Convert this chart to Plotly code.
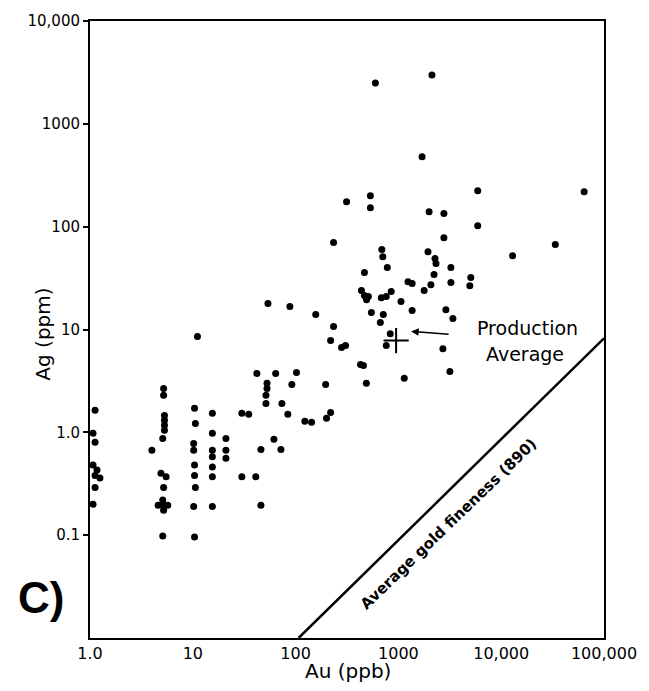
import plotly.graph_objects as go

# Sample data (Au ppb, Ag ppm)
au = [
    # Au ~1 column
    1.12, 1.07, 1.12, 1.07, 1.17, 1.12, 1.25, 1.12, 1.07,
    # Au ~4-5 column
    4.0,
    5.2, 5.2, 5.3, 5.3, 5.3, 5.3, 5.1, 4.9, 5.5, 5.2, 5.1, 5.2, 4.6, 5.7, 5.2, 5.1,
    # Au ~10 column
    10.4, 10.6, 10.2, 10.2, 10.4, 10.4, 10.6, 10.2, 10.4, 11.1,
    # Au ~15 column
    15.5, 15.5, 15.5, 15.5, 15.5, 15.5, 15.5,
    # Au ~20 column
    21, 21, 21,
    # 30-100
    30, 35, 30, 41, 46, 46, 72, 61.5, 42, 64, 102, 52.7, 52.7, 51.5, 51.5, 73.6, 91.9,
    196, 84, 123, 143, 200, 219,
    53.8, 88, 157, 234, 219, 280, 306, 428, 457, 488,
    # upper
    234, 313, 534, 534, 597, 2120, 1700, 1990, 2770, 2770, 5910, 5910, 64100, 33600, 12900,
    # central cluster
    690, 705, 780, 467, 1940, 2270, 2320, 3240, 2220, 2070, 1780, 1240, 1360, 3240, 5060, 4950,
    437, 467, 510, 490, 682, 762, 851, 1060, 1360, 546, 713, 667, 2900, 3390,
    833, 762, 2710, 3170, 1140,
]
ag = [
    1.64, 0.98, 0.80, 0.48, 0.43, 0.38, 0.36, 0.29, 0.20,
    0.67,
    2.67, 2.29, 1.46, 1.31, 1.17, 1.05, 0.87, 0.40, 0.37, 0.29, 0.22, 0.195, 0.195, 0.195, 0.175, 0.098,
    1.71, 1.22, 0.78, 0.67, 0.48, 0.38, 0.29, 0.19, 0.096, 8.55,
    1.53, 0.98, 0.67, 0.58, 0.46, 0.37, 0.19,
    0.87, 0.67, 0.56,
    1.53, 1.5, 0.37, 0.37, 0.195, 0.68, 0.68, 0.855, 3.74, 3.74, 3.82, 3.0, 2.67, 2.29, 1.91, 1.91, 2.92,
    2.92, 1.5, 1.28, 1.25, 1.37, 1.56,
    17.9, 16.7, 14.0, 10.7, 7.8, 6.7, 7.0, 4.57, 4.47, 3.0,
    70, 175, 200, 153, 2500, 2990, 479, 140, 134, 78, 224, 102, 219, 67, 52,
    60, 51, 40, 35.8, 57, 48.9, 43.8, 40, 34.2, 27.3, 23.9, 29.2, 28, 28.6, 32, 26.7,
    23.9, 21.4, 20.9, 19.5, 20.4, 20.9, 23.4, 18.7, 15.3, 14.6, 14.0, 11.7, 15.6, 12.8,
    9.1, 7.0, 6.5, 3.9, 3.35,
]

# Production average
prod_au = [950]
prod_ag = [7.8]

# Average gold fineness (890) line
line_au = [107, 100000]
line_ag = [0.01, 8.2]

x_tickvals = [1, 10, 100, 1000, 10000, 100000]
x_ticktext = ["1.0", "10", "100", "1000", "10,000", "100,000"]
y_tickvals = [0.1, 1, 10, 100, 1000, 10000]
y_ticktext = ["0.1", "1.0", "10", "100", "1000", "10,000"]

FONT = "DejaVu Sans"

fig = go.Figure()
fig.add_trace(go.Scatter(
    x=line_au, y=line_ag, mode="lines",
    line=dict(color="black", width=2.5), showlegend=False, hoverinfo="skip"))
fig.add_trace(go.Scatter(
    x=au, y=ag, mode="markers",
    marker=dict(color="black", size=7, symbol="circle"), showlegend=False))
fig.add_trace(go.Scatter(
    x=prod_au, y=prod_ag, mode="markers",
    marker=dict(color="black", size=18, symbol="cross-thin",
                line=dict(color="black", width=2)), showlegend=False))

fig.update_xaxes(
    type="log", range=[0, 5], tickvals=x_tickvals, ticktext=x_ticktext,
    showline=True, linecolor="black", linewidth=2, mirror=True,
    showgrid=False, zeroline=False, ticks="",
    tickfont=dict(family=FONT, size=16, color="black"))
fig.update_yaxes(
    type="log", range=[-2, 4], tickvals=y_tickvals, ticktext=y_ticktext,
    showline=True, linecolor="black", linewidth=2, mirror=True,
    showgrid=False, zeroline=False, ticks="outside", ticklen=5, tickwidth=1.5,
    tickcolor="black",
    tickfont=dict(family=FONT, size=15, color="black"))

C = dict(xanchor="center", yanchor="middle", showarrow=False)
annotations = [
    dict(text="Ag (ppm)", xref="paper", yref="paper", x=-0.091, y=0.492,
         textangle=-90, font=dict(family=FONT, size=20, color="black"), **C),
    dict(text="Au (ppb)", xref="paper", yref="paper", x=0.501, y=-0.053,
         font=dict(family=FONT, size=20, color="black"), **C),
    dict(text="<b>C)</b>", xref="paper", yref="paper", x=-0.095, y=0.065,
         font=dict(family="Liberation Sans", size=44, color="black"), **C),
    dict(text="Production", xref="paper", yref="paper", x=0.852, y=0.503,
         font=dict(family=FONT, size=19, color="black"), **C),
    dict(text="Average", xref="paper", yref="paper", x=0.846, y=0.461,
         font=dict(family=FONT, size=19, color="black"), **C),
    dict(text="<b>Average gold fineness (890)</b>", xref="paper", yref="paper",
         x=0.698, y=0.184, textangle=-44,
         font=dict(family=FONT, size=15, color="black"), **C),
    dict(text="", xref="x", yref="y", x=3.124, y=0.981, ax=39, ay=3,
         showarrow=True, arrowhead=2, arrowwidth=1.5, arrowcolor="black"),
]

fig.update_layout(
    width=649, height=691,
    margin=dict(l=90, r=42, t=20, b=53),
    paper_bgcolor="white", plot_bgcolor="white",
    annotations=annotations,
)

fig.write_html("out.html")
